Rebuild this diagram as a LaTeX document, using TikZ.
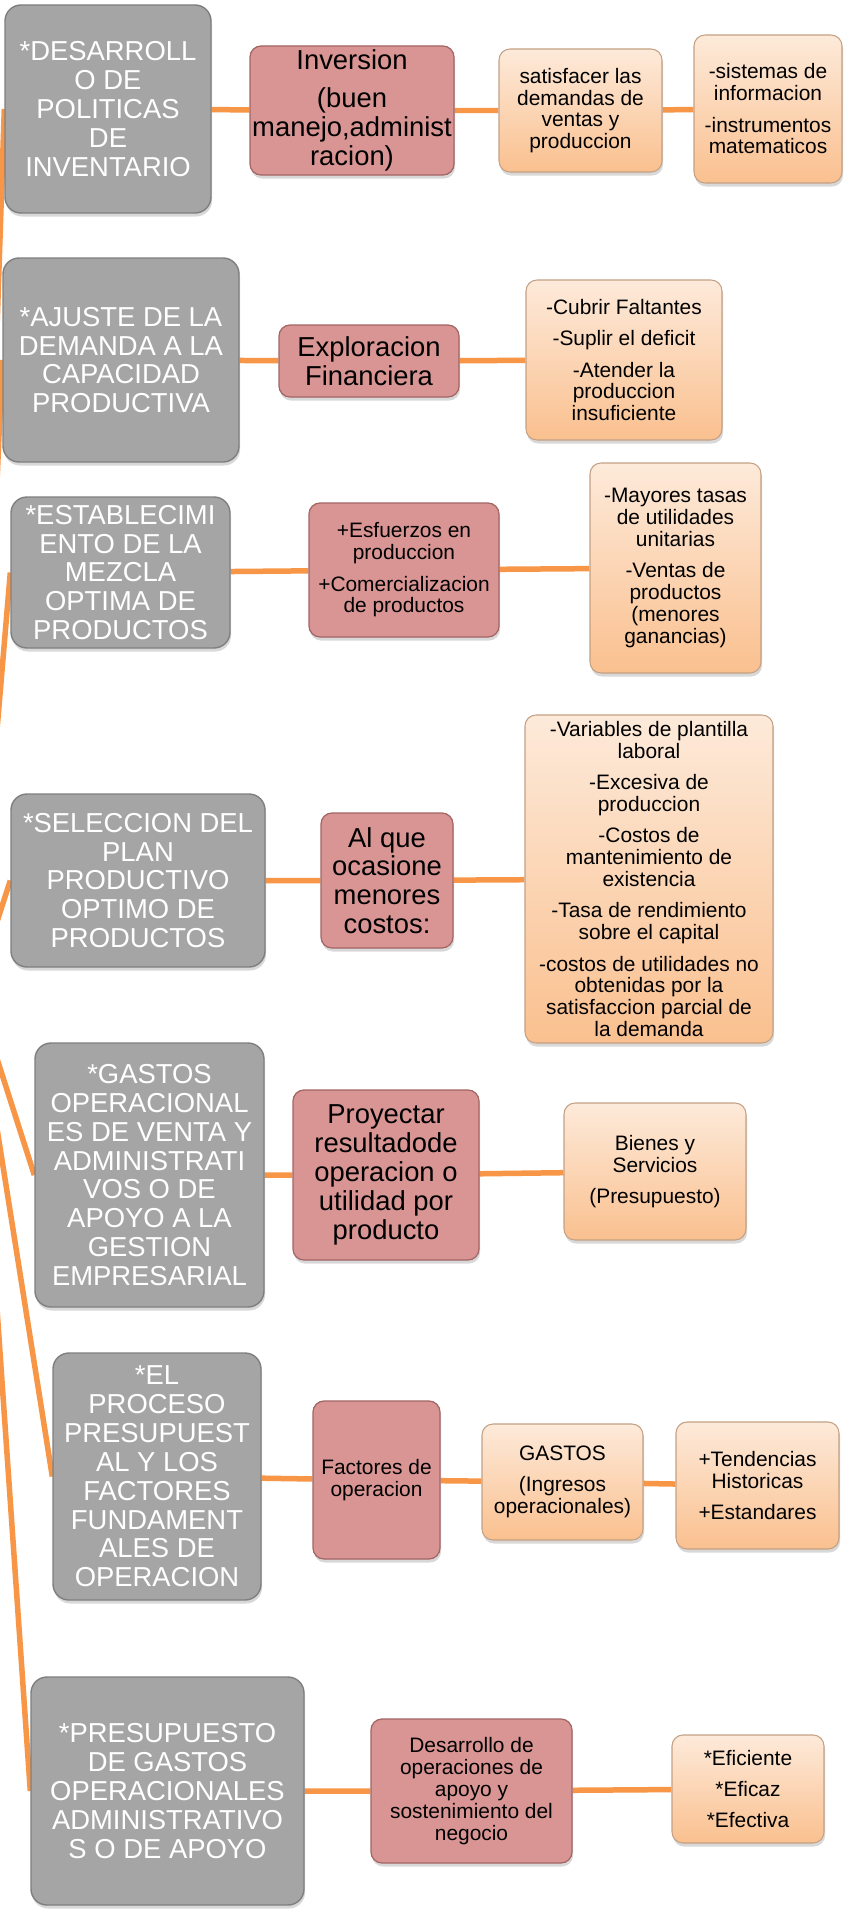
\documentclass[tikz,border=0pt]{standalone}
\usepackage{fontspec}
\setmainfont{Liberation Sans}
\usetikzlibrary{shadows,backgrounds}
\definecolor{gfill}{HTML}{A5A5A5}
\definecolor{gline}{HTML}{7F7F7F}
\definecolor{rfill}{HTML}{D99594}
\definecolor{rline}{HTML}{A36564}
\definecolor{otop}{HTML}{FDEADA}
\definecolor{obot}{HTML}{FAC08F}
\definecolor{oline}{HTML}{C4A184}
\definecolor{connc}{HTML}{F79646}
\tikzset{
 sz/.style 2 args={minimum width=#1*0.02cm, minimum height=#2*0.02cm},
 base/.style={inner sep=0pt, align=center, drop shadow={shadow xshift=0.6pt, shadow yshift=-2pt, opacity=0.3}},
 graybox/.style={base, fill=gfill, draw=gline, line width=0.8pt, rounded corners=0.32cm, text=white, font=\fontsize{15.6pt}{16.4pt}\selectfont},
 redbox/.style={base, fill=rfill, draw=rline, line width=0.7pt, rounded corners=0.22cm, text=black, font=\fontsize{15.6pt}{16.4pt}\selectfont},
 redsmall/.style={redbox, font=\fontsize{11.9pt}{12.4pt}\selectfont},
 orangebox/.style={base, top color=otop, bottom color=obot, draw=oline, line width=0.6pt, rounded corners=0.22cm, text=black, font=\fontsize{11.9pt}{12.4pt}\selectfont},
 link/.style={draw=connc, line width=0.11cm},
}
\begin{document}
\begin{tikzpicture}[x=0.02cm, y=-0.02cm]
\useasboundingbox (0,0) rectangle (849,1913);

% Row 1
\node[graybox, sz={206}{208}] (g1) at (108,109) {*DESARROLL\\O DE\\POLITICAS\\DE\\INVENTARIO};
\node[redbox, sz={204}{129}] (r1) at (352,110.5) {Inversion\\[5pt](buen\\manejo,administ\\racion)};
\node[orangebox, sz={163}{123}] (o1a) at (580.5,110.5) {satisfacer las\\demandas de\\ventas y\\produccion};
\node[orangebox, sz={148}{148}] (o1b) at (768,109) {-sistemas de\\informacion\\[5.5pt]-instrumentos\\matematicos};

% Row 2
\node[graybox, sz={236}{204}] (g2) at (121,360) {*AJUSTE DE LA\\DEMANDA A LA\\CAPACIDAD\\PRODUCTIVA};
\node[redbox, sz={180}{72}] (r2) at (369,361) {Exploracion\\Financiera};
\node[orangebox, sz={196}{160}] (o2) at (624,360) {-Cubrir Faltantes\\[5.5pt]-Suplir el deficit\\[5.5pt]-Atender la\\produccion\\insuficiente};

% Row 3
\node[graybox, sz={219}{151}] (g3) at (120.5,572.5) {*ESTABLECIMI\\ENTO DE LA\\MEZCLA\\OPTIMA DE\\PRODUCTOS};
\node[redsmall, sz={190}{134}] (r3) at (404,570) {+Esfuerzos en\\produccion\\[5.5pt]+Comercializacion\\de productos};
\node[orangebox, sz={171}{210}] (o3) at (675.5,568) {-Mayores tasas\\de utilidades\\unitarias\\[5.5pt]-Ventas de\\productos\\(menores\\ganancias)};

% Row 4
\node[graybox, sz={254}{173}] (g4) at (138,880.5) {*SELECCION DEL\\PLAN\\PRODUCTIVO\\OPTIMO DE\\PRODUCTOS};
\node[redbox, sz={132}{135}] (r4) at (387,880.5) {Al que\\ocasione\\menores\\costos:};
\node[orangebox, sz={248}{328}] (o4) at (649,879) {-Variables de plantilla\\laboral\\[5.5pt]-Excesiva de\\produccion\\[5.5pt]-Costos de\\mantenimiento de\\existencia\\[5.5pt]-Tasa de rendimiento\\sobre el capital\\[5.5pt]-costos de utilidades no\\obtenidas por la\\satisfaccion parcial de\\la demanda};

% Row 5
\node[graybox, sz={229}{264}] (g5) at (149.5,1175) {*GASTOS\\OPERACIONAL\\ES DE VENTA Y\\ADMINISTRATI\\VOS O DE\\APOYO A LA\\GESTION\\EMPRESARIAL};
\node[redbox, sz={186}{170}] (r5) at (386,1175) {Proyectar\\resultadode\\operacion o\\utilidad por\\producto};
\node[orangebox, sz={182}{137}] (o5) at (655,1171.5) {Bienes y\\Servicios\\[5.5pt](Presupuesto)};

% Row 6
\node[graybox, sz={208}{247}] (g6) at (157,1476.5) {*EL\\PROCESO\\PRESUPUEST\\AL Y LOS\\FACTORES\\FUNDAMENT\\ALES DE\\OPERACION};
\node[redsmall, sz={127}{158}] (r6) at (376.5,1480) {Factores de\\operacion};
\node[orangebox, sz={161}{116}] (o6a) at (562.5,1482) {GASTOS\\[5.5pt](Ingresos\\operacionales)};
\node[orangebox, sz={163}{127}] (o6b) at (757.5,1485.5) {+Tendencias\\Historicas\\[5.5pt]+Estandares};

% Row 7
\node[graybox, sz={273}{228}] (g7) at (167.5,1791) {*PRESUPUESTO\\DE GASTOS\\OPERACIONALES\\ADMINISTRATIVO\\S O DE APOYO};
\node[redsmall, sz={201}{144}] (r7) at (471.5,1791) {Desarrollo de\\operaciones de\\apoyo y\\sostenimiento del\\negocio};
\node[orangebox, sz={152}{108}] (o7) at (748,1789) {*Eficiente\\[5.5pt]*Eficaz\\[5.5pt]*Efectiva};

\begin{scope}[on background layer]
\fill[white] (0,0) rectangle (849,1913);
\clip (0,0) rectangle (849,1913);
\coordinate (root) at (-25,990);
\draw[link] (root) -- (g1.west);
\draw[link] (root) -- (g2.west);
\draw[link] (root) -- (g3.west);
\draw[link] (root) -- (g4.west);
\draw[link] (root) -- (g5.west);
\draw[link] (root) -- (g6.west);
\draw[link] (root) -- (g7.west);
\draw[link] (g1) -- (r1) -- (o1a) -- (o1b);
\draw[link] (g2) -- (r2) -- (o2);
\draw[link] (g3) -- (r3) -- (o3);
\draw[link] (g4) -- (r4) -- (o4);
\draw[link] (g5) -- (r5) -- (o5);
\draw[link] (g6) -- (r6) -- (o6a) -- (o6b);
\draw[link] (g7) -- (r7) -- (o7);
\end{scope}
\end{tikzpicture}
\end{document}
